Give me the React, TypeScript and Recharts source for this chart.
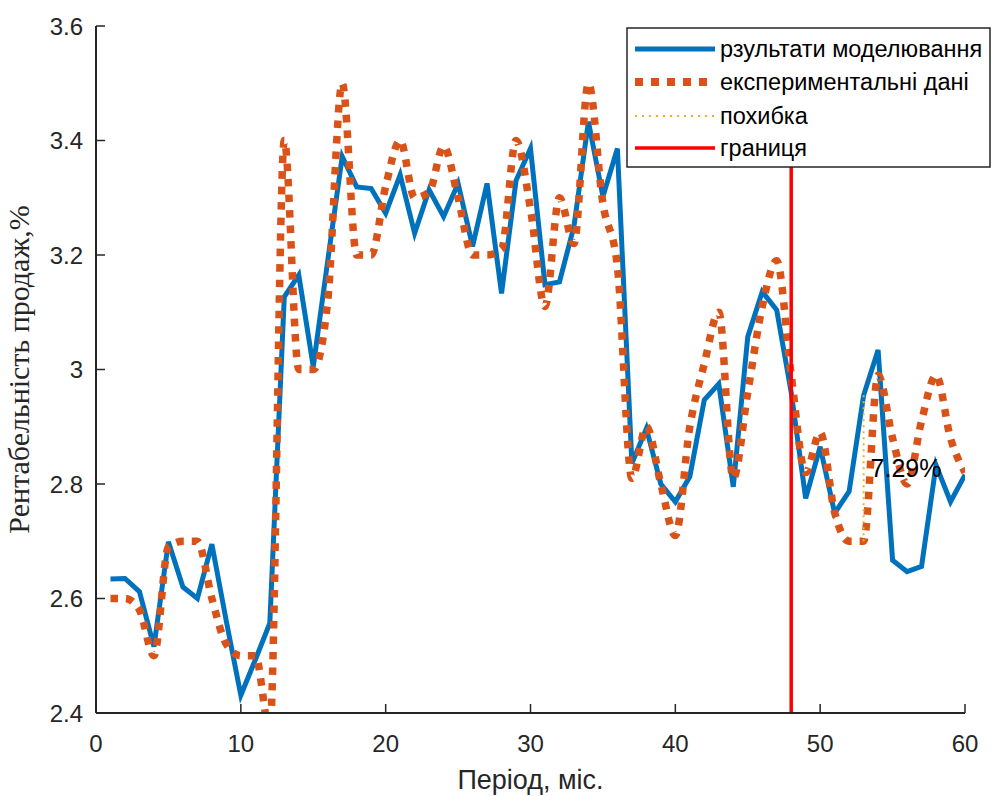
import { LineChart, Line, XAxis, YAxis, ReferenceLine } from 'recharts';

const months = [
  1, 2, 3, 4, 5, 6, 7, 8, 9, 10, 11, 12, 13, 14, 15, 16, 17, 18, 19, 20,
  21, 22, 23, 24, 25, 26, 27, 28, 29, 30, 31, 32, 33, 34, 35, 36, 37, 38, 39, 40,
  41, 42, 43, 44, 45, 46, 47, 48, 49, 50, 51, 52, 53, 54, 55, 56, 57, 58, 59, 60,
];

// результати моделювання
const model = [
  2.634, 2.635, 2.612, 2.516, 2.699, 2.62, 2.6, 2.695, 2.56, 2.431,
  2.493, 2.557, 3.127, 3.165, 3.005, 3.19, 3.372, 3.319, 3.316, 3.273,
  3.34, 3.238, 3.314, 3.267, 3.325, 3.215, 3.325, 3.133, 3.33, 3.386,
  3.148, 3.153, 3.25, 3.433, 3.302, 3.386, 2.836, 2.897, 2.8, 2.769,
  2.813, 2.947, 2.975, 2.795, 3.057, 3.136, 3.104, 2.96, 2.775, 2.865,
  2.749, 2.787, 2.955, 3.034, 2.667, 2.647, 2.656, 2.833, 2.769, 2.816,
];

// експериментальні дані
const experiment = [
  2.6, 2.6, 2.58, 2.5, 2.69, 2.7, 2.7, 2.6, 2.52, 2.5,
  2.5, 2.37, 3.4, 3.0, 3.0, 3.12, 3.5, 3.2, 3.2, 3.32,
  3.4, 3.3, 3.31, 3.39, 3.3, 3.2, 3.2, 3.21, 3.4, 3.28,
  3.11, 3.3, 3.22, 3.5, 3.29, 3.18, 2.81, 2.9, 2.8, 2.71,
  2.9, 3.01, 3.1, 2.81, 2.96, 3.11, 3.19, 2.99, 2.82, 2.89,
  2.75, 2.7, 2.7, 2.99, 2.88, 2.8, 2.91, 2.99, 2.88, 2.82,
];

const xTicks = [0, 10, 20, 30, 40, 50, 60];
const yTicks = [2.4, 2.6, 2.8, 3, 3.2, 3.4, 3.6];
const yDomain = [2.4, 3.6];

const boundaryMonth = 48;
const errorMonth = 53;
const errorText = '7.29%';

const data = months.map((m, i) => ({ month: m, model: model[i], experiment: experiment[i] }));

const BLUE = '#0072BD';
const ORANGE = '#D95319';
const YELLOW = '#EDB120';
const RED = '#FF0000';
const AXIS = '#262626';
const SANS = "Arial, 'Liberation Sans', sans-serif";
const SERIF = "'Times New Roman', 'Liberation Serif', serif";
const TICK_LEN = 9;

// plot box in chart pixels (margin top 26, x axis height 83 in a 796 tall chart)
const PLOT_TOP = 26;
const PLOT_BOTTOM = 713;

const fmt = (v: number) => String(Number(v.toFixed(1)));

function BottomTick({ x, y, payload }: any) {
  return (
    <g>
      <line x1={x} y1={y} x2={x} y2={y - TICK_LEN} stroke={AXIS} strokeWidth={1.5} />
      <text x={x} y={y + 39} textAnchor="middle" fontSize={24} fontFamily={SANS} fill={AXIS}>
        {fmt(payload.value)}
      </text>
    </g>
  );
}

function TopTick({ x, y }: any) {
  return <line x1={x} y1={y} x2={x} y2={y + TICK_LEN} stroke={AXIS} strokeWidth={1.5} />;
}

function LeftTick({ x, y, payload }: any) {
  return (
    <g>
      <line x1={x} y1={y} x2={x + TICK_LEN} y2={y} stroke={AXIS} strokeWidth={1.5} />
      <text x={x - 13} y={y + 8.5} textAnchor="end" fontSize={24} fontFamily={SANS} fill={AXIS}>
        {fmt(payload.value)}
      </text>
    </g>
  );
}

function RightTick({ x, y }: any) {
  return <line x1={x} y1={y} x2={x - TICK_LEN} y2={y} stroke={AXIS} strokeWidth={1.5} />;
}

const LEGEND = [
  { label: 'рзультати моделювання', color: BLUE, width: 5, dash: undefined },
  { label: 'експериментальні дані', color: ORANGE, width: 8, dash: '8 8' },
  { label: 'похибка', color: YELLOW, width: 2, dash: '2 5' },
  { label: 'границя', color: RED, width: 3.5, dash: undefined },
];

const LEG_X = 627;
const LEG_Y = 28;
const LEG_W = 363;
const LEG_H = 139;
const ROW_Y = [21, 54, 88, 120];

// the boundary line stops where the legend box begins
const legendBottomValue =
  yDomain[0] + ((PLOT_BOTTOM - (LEG_Y + LEG_H)) / (PLOT_BOTTOM - PLOT_TOP)) * (yDomain[1] - yDomain[0]);

function SvgLegend() {
  return (
    <g className="legend-box">
      <rect x={LEG_X} y={LEG_Y} width={LEG_W} height={LEG_H} fill="#fff" stroke={AXIS} strokeWidth={1.5} />
      {LEGEND.map((l, i) => {
        const cy = LEG_Y + ROW_Y[i];
        return (
          <g key={l.label}>
            <line x1={LEG_X + 8} y1={cy} x2={LEG_X + 88} y2={cy} stroke={l.color} strokeWidth={l.width} strokeDasharray={l.dash} />
            <text x={LEG_X + 93} y={cy + 8} fontSize={23.5} fontFamily={SANS} fill="#000">
              {l.label}
            </text>
          </g>
        );
      })}
    </g>
  );
}

export default function App() {
  const errTop = model[errorMonth - 1];
  const errBottom = experiment[errorMonth - 1];
  return (
    <div style={{ position: 'absolute', left: 0, top: 0, width: 993, height: 796, background: '#fff' }}>
      <LineChart width={993} height={796} data={data} margin={{ top: PLOT_TOP, right: 28, bottom: 0, left: 0 }}>
        <XAxis
          dataKey="month"
          type="number"
          domain={[0, 60]}
          ticks={xTicks}
          allowDataOverflow
          height={83}
          tickSize={0}
          tickMargin={0}
          tick={<BottomTick />}
          axisLine={{ stroke: AXIS, strokeWidth: 2 }}
          label={{
            content: ({ viewBox }: any) => (
              <text
                x={viewBox.x + viewBox.width / 2}
                y={viewBox.y + 76}
                textAnchor="middle"
                fontSize={27}
                fontFamily={SANS}
                fill={AXIS}
              >
                Період, міс.
              </text>
            ),
          }}
        />
        <XAxis
          xAxisId="top"
          orientation="top"
          type="number"
          domain={[0, 60]}
          ticks={xTicks}
          allowDataOverflow
          height={0}
          tickSize={0}
          tickMargin={0}
          tick={<TopTick />}
          axisLine={{ stroke: AXIS, strokeWidth: 2 }}
        />
        <YAxis
          type="number"
          domain={yDomain}
          ticks={yTicks}
          allowDataOverflow
          width={96}
          tickSize={0}
          tickMargin={0}
          tick={<LeftTick />}
          axisLine={{ stroke: AXIS, strokeWidth: 2 }}
          label={{
            content: ({ viewBox }: any) => {
              const cx = 29;
              const cy = viewBox.y + viewBox.height / 2;
              return (
                <text
                  x={cx}
                  y={cy}
                  transform={`rotate(-90, ${cx}, ${cy})`}
                  textAnchor="middle"
                  fontSize={30}
                  fontFamily={SERIF}
                  fill={AXIS}
                >
                  Рентабельність продаж,%
                </text>
              );
            },
          }}
        />
        <YAxis
          yAxisId="r"
          orientation="right"
          type="number"
          domain={yDomain}
          ticks={yTicks}
          allowDataOverflow
          width={0}
          tickSize={0}
          tickMargin={0}
          tick={<RightTick />}
          axisLine={{ stroke: AXIS, strokeWidth: 2 }}
        />
        <Line
          type="linear"
          dataKey="model"
          stroke={BLUE}
          strokeWidth={5}
          dot={false}
          activeDot={false}
          isAnimationActive={false}
        />
        <Line
          type="monotone"
          dataKey="experiment"
          stroke={ORANGE}
          strokeWidth={7.5}
          strokeDasharray="7.5 8"
          dot={false}
          activeDot={false}
          isAnimationActive={false}
        />
        <ReferenceLine
          segment={[
            { x: errorMonth, y: errTop },
            { x: errorMonth, y: errBottom },
          ]}
          stroke={YELLOW}
          strokeWidth={2}
          strokeDasharray="2 4"
          label={{ value: errorText, position: 'right', offset: 7, fill: '#000', fontSize: 25, fontFamily: SANS }}
        />
        <ReferenceLine
          segment={[
            { x: boundaryMonth, y: yDomain[0] },
            { x: boundaryMonth, y: legendBottomValue },
          ]}
          stroke={RED}
          strokeWidth={3.5}
          label={{ content: () => <SvgLegend /> }}
        />
      </LineChart>
    </div>
  );
}
